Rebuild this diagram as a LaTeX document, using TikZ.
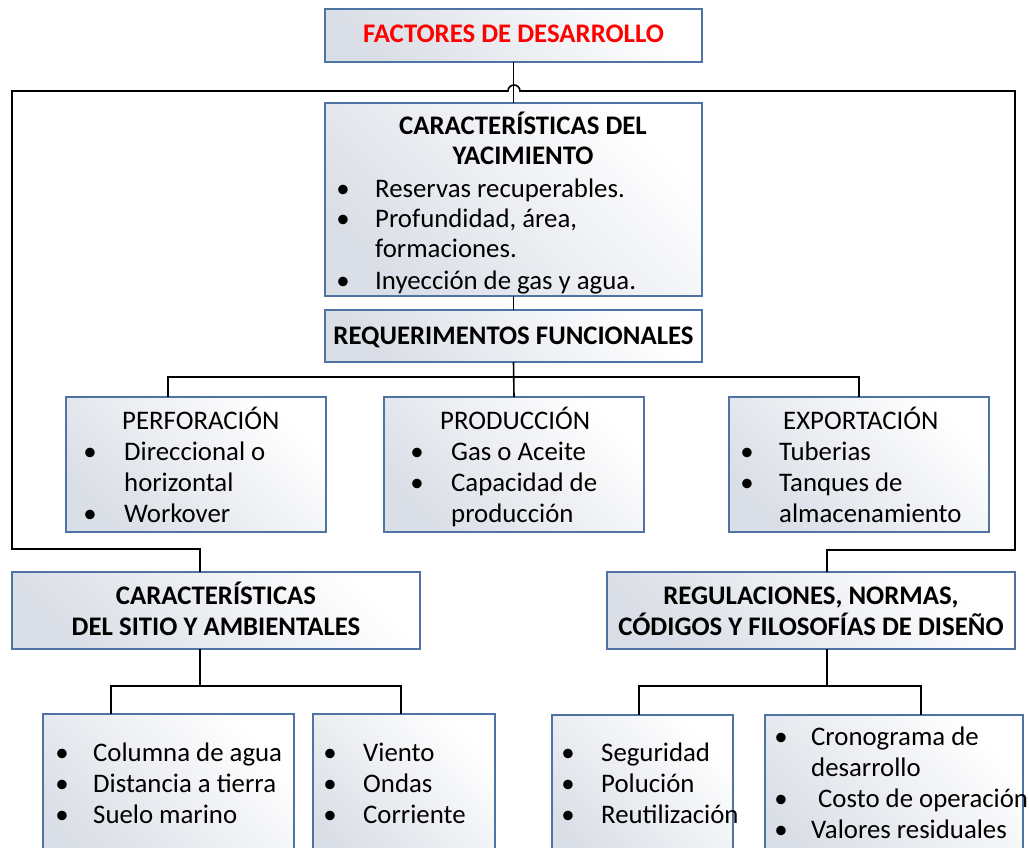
\documentclass[tikz,border=0pt]{standalone}
\usepackage{fontspec}
\setmainfont{Carlito}
\usetikzlibrary{calc}
\definecolor{boxblue}{RGB}{79,115,163}
\definecolor{boxgray}{RGB}{218,222,230}
\begin{document}
\begin{tikzpicture}[x=1pt,y=-1pt,
  box/.style={draw=boxblue, line width=1.5pt, top color=boxgray, bottom color=white, shading angle=135, anchor=north west, inner sep=0pt, outer sep=0pt},
  conn/.style={draw=black, line width=1.6pt},
  tl/.style={anchor=base west, inner sep=0pt, font=\fontsize{26.8}{31}\selectfont},
  hb/.style={anchor=base, inner sep=0pt, font=\fontsize{26.8}{31}\selectfont\bfseries},
  bul/.style={anchor=base, inner sep=0pt, font=\fontsize{26.8}{31}\selectfont}]
\useasboundingbox (0,0) rectangle (1029,848);
\clip (0,0) rectangle (1029,848);

% boxes
\node[box, minimum width=377pt, minimum height=53pt] (factores) at (325,9) {};
\node[box, minimum width=377pt, minimum height=193pt] (yac) at (325,103) {};
\node[box, minimum width=377pt, minimum height=52pt] (req) at (325,310) {};
\node[box, minimum width=260pt, minimum height=135pt] (perf) at (66,397) {};
\node[box, minimum width=260pt, minimum height=135pt] (prod) at (384,397) {};
\node[box, minimum width=260pt, minimum height=135pt] (expo) at (729,397) {};
\node[box, minimum width=408pt, minimum height=77pt] (sitio) at (12,572) {};
\node[box, minimum width=408pt, minimum height=77pt] (regul) at (607,572) {};
\node[box, minimum width=251pt, minimum height=156pt] (b1) at (43,714) {};
\node[box, minimum width=182pt, minimum height=156pt] (b2) at (313,714) {};
\node[box, minimum width=181pt, minimum height=155pt] (b3) at (552,715) {};
\node[box, minimum width=258pt, minimum height=155pt] (b4) at (765,715) {};

% connectors
\coordinate (loopL) at (12,91);
\coordinate (jl) at (508,91);
\coordinate (loopR) at (1015,91);
\draw[conn] (factores.south) -- (yac.north);
\draw[conn] ([xshift=188pt]sitio.north west) -- ++(0,-23) -| (loopL) -- (jl)
  arc[start angle=180, end angle=0, x radius=6pt, y radius=6pt] -- (loopR)
  |- ++(-188,459) -- ([xshift=220pt]regul.north west);
\draw[conn] (yac.south) -- (req.north);
\draw[conn] (req.south) -- (prod.north);
\draw[conn] ([xshift=102pt]perf.north west) -- ++(0,-20) -| ([xshift=130pt]expo.north west);
\draw[conn] ([xshift=188pt]sitio.south west) -- ++(0,37) coordinate (sj);
\draw[conn] ([xshift=68pt]b1.north west) -- ++(0,-28) -| ([xshift=88pt]b2.north west);
\draw[conn] ([xshift=220pt]regul.south west) -- ++(0,37) coordinate (rj);
\draw[conn] ([xshift=87pt]b3.north west) -- ++(0,-29) -| ([xshift=156pt]b4.north west);

% texts
\node[hb, text=red] (tf) at (513.5,43) {FACTORES DE DESARROLLO};
\node[hb] (ty1) at (523,135) {CARACTERÍSTICAS DEL};
\node[hb] (ty2) at (523,165) {YACIMIENTO};
\node[bul] (by1) at (343,197) {•};
\node[tl] (ty3) at (375,197) {Reservas recuperables.};
\node[bul] (by2) at (343,228) {•};
\node[tl] (ty4) at (375,228) {Profundidad, área,};
\node[tl] (ty5) at (375,258) {formaciones.};
\node[bul] (by3) at (343,289) {•};
\node[tl] (ty6) at (375,289) {Inyección de gas y agua.};
\node[hb] (tr) at (513.5,344) {REQUERIMENTOS FUNCIONALES};

\node[tl] (tp0) at (122,429) {PERFORACIÓN};
\node[bul] (bp1) at (90,460) {•};
\node[tl] (tp1) at (124,460) {Direccional o};
\node[tl] (tp2) at (124,491) {horizontal};
\node[bul] (bp2) at (90,522) {•};
\node[tl] (tp3) at (124,522) {Workover};

\node[tl] (tq0) at (440,429) {PRODUCCIÓN};
\node[bul] (bq1) at (417,460) {•};
\node[tl] (tq1) at (451,460) {Gas o Aceite};
\node[bul] (bq2) at (417,491) {•};
\node[tl] (tq2) at (451,491) {Capacidad de};
\node[tl] (tq3) at (451,522) {producción};

\node[tl] (te0) at (783,429) {EXPORTACIÓN};
\node[bul] (be1) at (747,460) {•};
\node[tl] (te1) at (779,460) {Tuberias};
\node[bul] (be2) at (747,491) {•};
\node[tl] (te2) at (779,491) {Tanques de};
\node[tl] (te3) at (779,522) {almacenamiento};

\node[hb] (ts1) at (216,604) {CARACTERÍSTICAS};
\node[hb] (ts2) at (216,635) {DEL SITIO Y AMBIENTALES};
\node[hb] (tg1) at (811,604) {REGULACIONES, NORMAS,};
\node[hb] (tg2) at (811,635) {CÓDIGOS Y FILOSOFÍAS DE DISEÑO};

\node[bul] (b1a) at (62,761) {•};
\node[tl] (t1a) at (93,761) {Columna de agua};
\node[bul] (b1b) at (62,792) {•};
\node[tl] (t1b) at (93,792) {Distancia a tierra};
\node[bul] (b1c) at (62,823) {•};
\node[tl] (t1c) at (93,823) {Suelo marino};

\node[bul] (b2a) at (330,761) {•};
\node[tl] (t2a) at (363,761) {Viento};
\node[bul] (b2b) at (330,792) {•};
\node[tl] (t2b) at (363,792) {Ondas};
\node[bul] (b2c) at (330,823) {•};
\node[tl] (t2c) at (363,823) {Corriente};

\node[bul] (b3a) at (568,761) {•};
\node[tl] (t3a) at (601,761) {Seguridad};
\node[bul] (b3b) at (568,792) {•};
\node[tl] (t3b) at (601,792) {Polución};
\node[bul] (b3c) at (568,823) {•};
\node[tl] (t3c) at (601,823) {Reutilización};

\node[bul] (b4a) at (781,745) {•};
\node[tl] (t4a) at (811,745) {Cronograma de};
\node[tl] (t4b) at (811,776) {desarrollo};
\node[bul] (b4c) at (781,807) {•};
\node[tl] (t4c) at (818,807) {Costo de operación};
\node[bul] (b4d) at (781,838) {•};
\node[tl] (t4d) at (811,838) {Valores residuales};
\end{tikzpicture}
\end{document}
